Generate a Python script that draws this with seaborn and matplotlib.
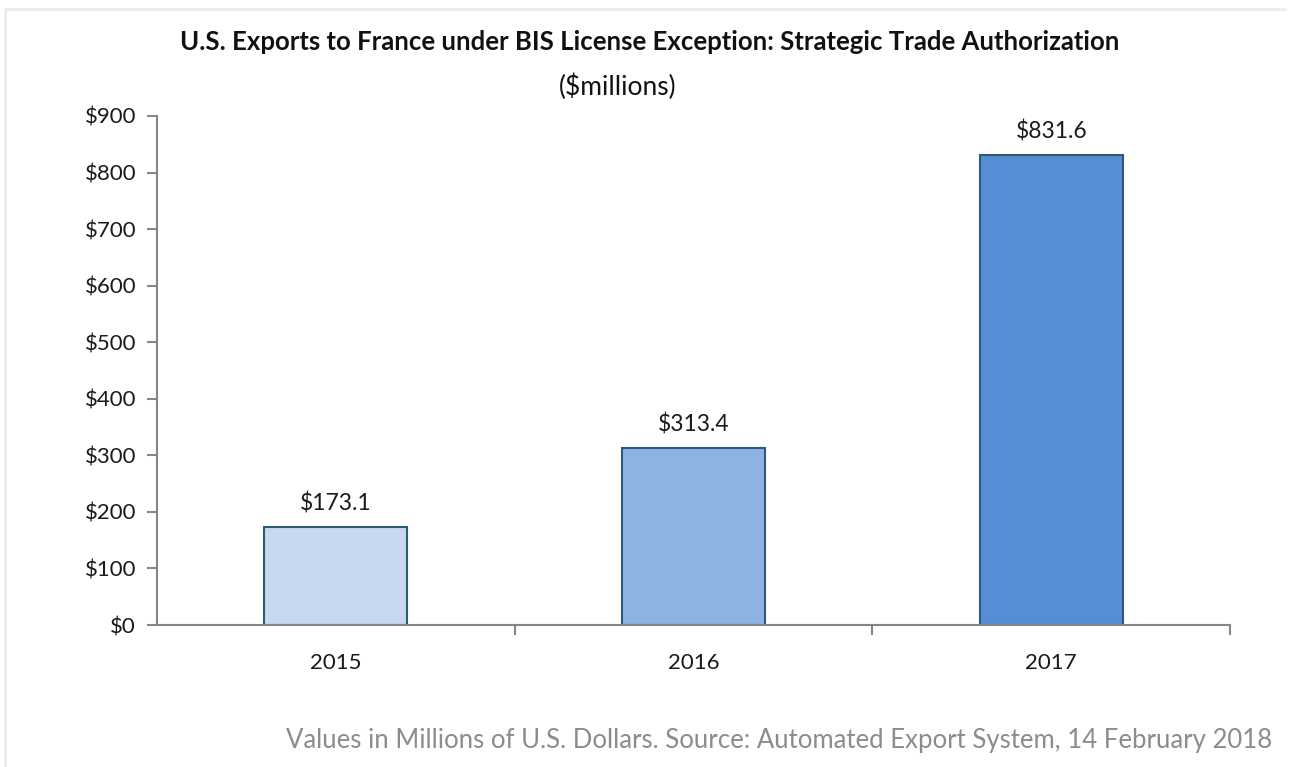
import matplotlib
matplotlib.use("Agg")
import pandas as pd
import matplotlib.pyplot as plt
import seaborn as sns
from matplotlib.ticker import FuncFormatter, FixedLocator

# chart data
years = ["2015", "2016", "2017"]
exports = [173.1, 313.4, 831.6]
bar_colors = ["#C6D9F1", "#8DB3E2", "#558ED5"]
y_ticks = [0, 100, 200, 300, 400, 500, 600, 700, 800, 900]

df = pd.DataFrame({"Year": years, "Exports": exports})

sns.set_theme(style="white")
plt.rcParams["font.family"] = ["Lato", "DejaVu Sans"]

fig = plt.figure(figsize=(12.89, 7.67), dpi=100)
ax = fig.add_axes([0.1218, 0.1851, 0.8325, 0.6637])

sns.barplot(data=df, x="Year", y="Exports", hue="Year", palette=bar_colors,
            legend=False, width=0.4, edgecolor="#2F5A72", linewidth=1.5,
            saturation=1, ax=ax)

for cont in ax.containers:
    ax.bar_label(cont, fmt="${:.1f}", padding=9, fontsize=16.5, color="#1a1a1a")

ax.set_ylim(0, 900)
ax.set_xlim(-0.5, 2.5)
ax.set_yticks(y_ticks)
ax.yaxis.set_major_formatter(FuncFormatter(lambda v, p: f"${v:,.0f}"))
ax.set_xlabel("")
ax.set_ylabel("")

# tick marks between categories, like the spreadsheet chart
ax.xaxis.set_minor_locator(FixedLocator([0.5, 1.5, 2.5]))
ax.tick_params(axis="x", which="both", bottom=True)
ax.tick_params(axis="y", left=True)
ax.tick_params(axis="x", which="major", length=0, pad=20, labelsize=16, labelcolor="#1a1a1a")
ax.tick_params(axis="x", which="minor", length=7, width=1.5, color="#868686", direction="out")
ax.tick_params(axis="y", length=7, width=1.5, color="#868686", direction="out",
               pad=8, labelsize=16, labelcolor="#1a1a1a")

for side in ["top", "right"]:
    ax.spines[side].set_visible(False)
for side in ["left", "bottom"]:
    ax.spines[side].set_color("#868686")
    ax.spines[side].set_linewidth(1.5)

fig.text(0.504, 0.945, "U.S. Exports to France under BIS License Exception: Strategic Trade Authorization",
         ha="center", va="center", fontsize=18.5, fontweight="bold", color="#111111")
fig.text(0.479, 0.887, "($millions)", ha="center", va="center", fontsize=19, color="#111111")
fig.text(0.987, 0.034, "Values in Millions of U.S. Dollars. Source: Automated Export System, 14 February 2018",
         ha="right", va="center", fontsize=18.5, color="#8C8C8C")

# faint outer frame of the original picture
fig.add_artist(plt.Line2D([0.004, 0.997], [0.988, 0.988], color="#EBEBEB", lw=2, transform=fig.transFigure))
fig.add_artist(plt.Line2D([0.004, 0.004], [0.0, 0.988], color="#EBEBEB", lw=2, transform=fig.transFigure))

fig.savefig("out.png", dpi=100)
